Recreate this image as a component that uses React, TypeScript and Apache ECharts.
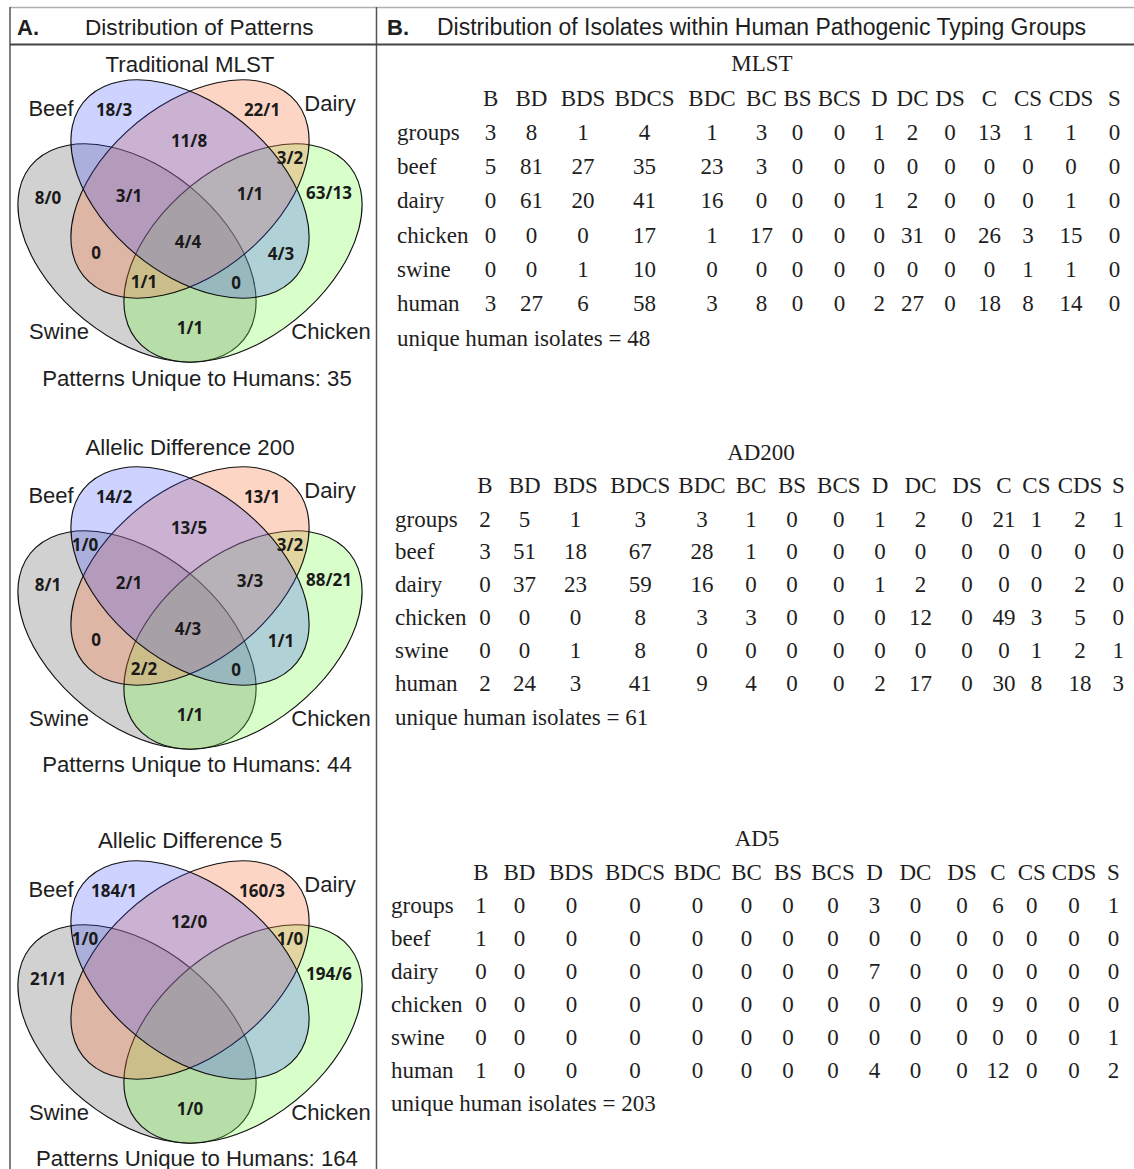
import React, { useEffect, useRef } from "react";
import * as echarts from "echarts";

// ---------- DATA ----------
const COLUMNS = ["B", "BD", "BDS", "BDCS", "BDC", "BC", "BS", "BCS", "D", "DC", "DS", "C", "CS", "CDS", "S"];
const ROW_LABELS = ["groups", "beef", "dairy", "chicken", "swine", "human"];

const mlstGroups = [3, 8, 1, 4, 1, 3, 0, 0, 1, 2, 0, 13, 1, 1, 0];
const mlstBeef = [5, 81, 27, 35, 23, 3, 0, 0, 0, 0, 0, 0, 0, 0, 0];
const mlstDairy = [0, 61, 20, 41, 16, 0, 0, 0, 1, 2, 0, 0, 0, 1, 0];
const mlstChicken = [0, 0, 0, 17, 1, 17, 0, 0, 0, 31, 0, 26, 3, 15, 0];
const mlstSwine = [0, 0, 1, 10, 0, 0, 0, 0, 0, 0, 0, 0, 1, 1, 0];
const mlstHuman = [3, 27, 6, 58, 3, 8, 0, 0, 2, 27, 0, 18, 8, 14, 0];
const mlstUniqueIsolates = 48;

const ad200Groups = [2, 5, 1, 3, 3, 1, 0, 0, 1, 2, 0, 21, 1, 2, 1];
const ad200Beef = [3, 51, 18, 67, 28, 1, 0, 0, 0, 0, 0, 0, 0, 0, 0];
const ad200Dairy = [0, 37, 23, 59, 16, 0, 0, 0, 1, 2, 0, 0, 0, 2, 0];
const ad200Chicken = [0, 0, 0, 8, 3, 3, 0, 0, 0, 12, 0, 49, 3, 5, 0];
const ad200Swine = [0, 0, 1, 8, 0, 0, 0, 0, 0, 0, 0, 0, 1, 2, 1];
const ad200Human = [2, 24, 3, 41, 9, 4, 0, 0, 2, 17, 0, 30, 8, 18, 3];
const ad200UniqueIsolates = 61;

const ad5Groups = [1, 0, 0, 0, 0, 0, 0, 0, 3, 0, 0, 6, 0, 0, 1];
const ad5Beef = [1, 0, 0, 0, 0, 0, 0, 0, 0, 0, 0, 0, 0, 0, 0];
const ad5Dairy = [0, 0, 0, 0, 0, 0, 0, 0, 7, 0, 0, 0, 0, 0, 0];
const ad5Chicken = [0, 0, 0, 0, 0, 0, 0, 0, 0, 0, 0, 9, 0, 0, 0];
const ad5Swine = [0, 0, 0, 0, 0, 0, 0, 0, 0, 0, 0, 0, 0, 0, 1];
const ad5Human = [1, 0, 0, 0, 0, 0, 0, 0, 4, 0, 0, 12, 0, 0, 2];
const ad5UniqueIsolates = 203;

// Venn regions: B=Beef, D=Dairy, S=Swine, C=Chicken
const VENN_REGIONS = ["B", "D", "S", "C", "BD", "DC", "BS", "BDS", "BDC", "DS", "BDCS", "BC", "DCS", "BCS", "CS"];
const mlstVenn = ["18/3", "22/1", "8/0", "63/13", "11/8", "3/2", "", "3/1", "1/1", "0", "4/4", "4/3", "1/1", "0", "1/1"];
const ad200Venn = ["14/2", "13/1", "8/1", "88/21", "13/5", "3/2", "1/0", "2/1", "3/3", "0", "4/3", "1/1", "2/2", "0", "1/1"];
const ad5Venn = ["184/1", "160/3", "21/1", "194/6", "12/0", "1/0", "1/0", "", "", "", "", "", "", "", "1/0"];

const VENN_TITLES = ["Traditional MLST", "Allelic Difference 200", "Allelic Difference 5"];
const UNIQUE_PATTERNS = [35, 44, 164];
const TABLE_TITLES = ["MLST", "AD200", "AD5"];

// ---------- LAYOUT ----------
const W = 1134;
const H = 1169;
const SANS = '"Liberation Sans", Arial, sans-serif';
const SERIF = '"Liberation Serif", "Times New Roman", serif';
const BOLDNUM = '"Noto Sans", sans-serif';
const TEXT = "#1e1e1e";

const VENN_CENTERS = [189, 576, 970];
const VENN_CX = 190;
const VENN_TITLE_Y = [64, 447, 840];
const VENN_FOOT_Y = [378, 764, 1158];
const REGION_OFFSETS: Record<string, [number, number]> = {
  B: [-76, -80], D: [72, -80], S: [-142, 8], C: [139, 3],
  BD: [-1, -49], DC: [100, -32], BS: [-105, -32], BDS: [-61, 6],
  BDC: [60, 4], DS: [-94, 63], BDCS: [-2, 52], BC: [91, 64],
  DCS: [-46, 92], BCS: [46, 93], CS: [0, 138],
};
const CAT_LABELS: { name: string; dx: number; dy: number }[] = [
  { name: "Beef", dx: -139, dy: -81 },
  { name: "Dairy", dx: 140, dy: -86 },
  { name: "Swine", dx: -131, dy: 142 },
  { name: "Chicken", dx: 141, dy: 142 },
];
const ELL_A = 143;
const ELL_B = 89;
const Y_SQUASH = 0.916;
const OUTER_DX = 53;
const OUTER_DY = 64;

const FILL_SWINE = "rgba(135,135,135,0.38)";
const FILL_CHICKEN = "rgba(115,255,60,0.28)";
const FILL_DAIRY = "rgba(250,125,75,0.32)";
const FILL_BEEF = "rgba(55,75,255,0.25)";

const TABLE_LAYOUTS = [
  {
    titleX: 762, titleY: 63, headerY: 98, rowY: [132, 166, 200, 235, 269, 303], uniqueY: 338, labelX: 397,
    colX: [490.6, 531.5, 583, 644.5, 712, 761.4, 797.5, 839.4, 879.3, 912.5, 950, 989.4, 1028, 1071, 1114.5],
  },
  {
    titleX: 761, titleY: 452, headerY: 485, rowY: [519, 551, 584, 617, 650, 683], uniqueY: 717, labelX: 395,
    colX: [485, 524.6, 575.5, 640.2, 702, 751, 792, 838.8, 880, 920.5, 967, 1004, 1036.4, 1080, 1118.3],
  },
  {
    titleX: 757, titleY: 838, headerY: 872, rowY: [905, 938, 971, 1004, 1037, 1070], uniqueY: 1103, labelX: 391,
    colX: [481, 519.5, 571.4, 635, 697.5, 746.5, 788, 833, 874.5, 915.4, 962, 998, 1031.8, 1074, 1113.5],
  },
];

function txt(text: string, x: number, y: number, font: string, align = "center", fill = TEXT): any {
  return {
    type: "text",
    x,
    y,
    silent: true,
    style: { text, font, fill, align, verticalAlign: "middle", textAlign: align, textVerticalAlign: "middle" },
  };
}

function vennElements(panel: number, labels: string[]): any[] {
  const cy = VENN_CENTERS[panel];
  const out: any[] = [];
  const ell = (dx: number, dy: number, rot: number, fill: string) => ({
    type: "ellipse",
    x: dx,
    y: dy / Y_SQUASH,
    rotation: rot,
    shape: { cx: 0, cy: 0, rx: ELL_A, ry: ELL_B },
    style: { fill, stroke: "#111", lineWidth: 1.1, strokeNoScale: true },
  });
  out.push({
    type: "group",
    x: VENN_CX,
    y: cy,
    scaleY: Y_SQUASH,
    silent: true,
    children: [
      ell(-OUTER_DX, OUTER_DY, -Math.PI / 4, FILL_SWINE),
      ell(OUTER_DX, OUTER_DY, Math.PI / 4, FILL_CHICKEN),
      ell(0, 0, Math.PI / 4, FILL_DAIRY),
      ell(0, 0, -Math.PI / 4, FILL_BEEF),
    ],
  });
  out.push(txt(VENN_TITLES[panel], VENN_CX, VENN_TITLE_Y[panel], `22.3px ${SANS}`));
  CAT_LABELS.forEach((c) => out.push(txt(c.name, VENN_CX + c.dx, cy + c.dy, `22px ${SANS}`)));
  VENN_REGIONS.forEach((r, i) => {
    if (!labels[i]) return;
    const [dx, dy] = REGION_OFFSETS[r];
    out.push(txt(labels[i], VENN_CX + dx, cy + dy, `bold 17px ${BOLDNUM}`, "center", "#1a1a1a"));
  });
  out.push(txt(`Patterns Unique to Humans: ${UNIQUE_PATTERNS[panel]}`, 197, VENN_FOOT_Y[panel], `22.2px ${SANS}`));
  return out;
}

function tableElements(t: number, rows: number[][], unique: number): any[] {
  const L = TABLE_LAYOUTS[t];
  const out: any[] = [];
  const f = `23px ${SERIF}`;
  out.push(txt(TABLE_TITLES[t], L.titleX, L.titleY, f));
  COLUMNS.forEach((c, j) => out.push(txt(c, L.colX[j], L.headerY, f)));
  rows.forEach((row, i) => {
    out.push(txt(ROW_LABELS[i], L.labelX, L.rowY[i], f, "left"));
    row.forEach((v, j) => out.push(txt(String(v), L.colX[j], L.rowY[i], f)));
  });
  out.push(txt(`unique human isolates = ${unique}`, L.labelX, L.uniqueY, f, "left"));
  return out;
}

function buildOption(): any {
  const elements: any[] = [];
  const line = (x1: number, y1: number, x2: number, y2: number, stroke: string, w: number) => ({
    type: "line",
    silent: true,
    shape: { x1, y1, x2, y2 },
    style: { stroke, lineWidth: w },
  });
  elements.push(line(10, 7.5, W, 7.5, "#b0b0b0", 1.5));
  elements.push(line(10, 7, 10, H, "#555", 1.5));
  elements.push(line(376.5, 7, 376.5, H, "#555", 1.5));
  elements.push(line(10, 44.5, W, 44.5, "#444", 2));
  // header
  elements.push(txt("A.", 17, 27, `bold 22px ${SANS}`, "left"));
  elements.push(txt("Distribution of Patterns", 85, 27, `22.6px ${SANS}`, "left"));
  elements.push(txt("B.", 387, 27, `bold 22px ${SANS}`, "left"));
  elements.push(txt("Distribution of Isolates within Human Pathogenic Typing Groups", 437, 27, `23px ${SANS}`, "left"));

  [mlstVenn, ad200Venn, ad5Venn].forEach((v, p) => elements.push(...vennElements(p, v)));

  elements.push(...tableElements(0, [mlstGroups, mlstBeef, mlstDairy, mlstChicken, mlstSwine, mlstHuman], mlstUniqueIsolates));
  elements.push(...tableElements(1, [ad200Groups, ad200Beef, ad200Dairy, ad200Chicken, ad200Swine, ad200Human], ad200UniqueIsolates));
  elements.push(...tableElements(2, [ad5Groups, ad5Beef, ad5Dairy, ad5Chicken, ad5Swine, ad5Human], ad5UniqueIsolates));

  return {
    animation: false,
    backgroundColor: "#ffffff",
    graphic: { elements },
  };
}

export default function App() {
  const ref = useRef<HTMLDivElement>(null);
  useEffect(() => {
    if (!ref.current) return;
    const chart = echarts.init(ref.current, null, { renderer: "svg", width: W, height: H });
    chart.setOption(buildOption());
    return () => chart.dispose();
  }, []);
  return (
    <div
      ref={ref}
      style={{ position: "absolute", left: 0, top: 0, width: W, height: H, background: "#fff" }}
    />
  );
}
